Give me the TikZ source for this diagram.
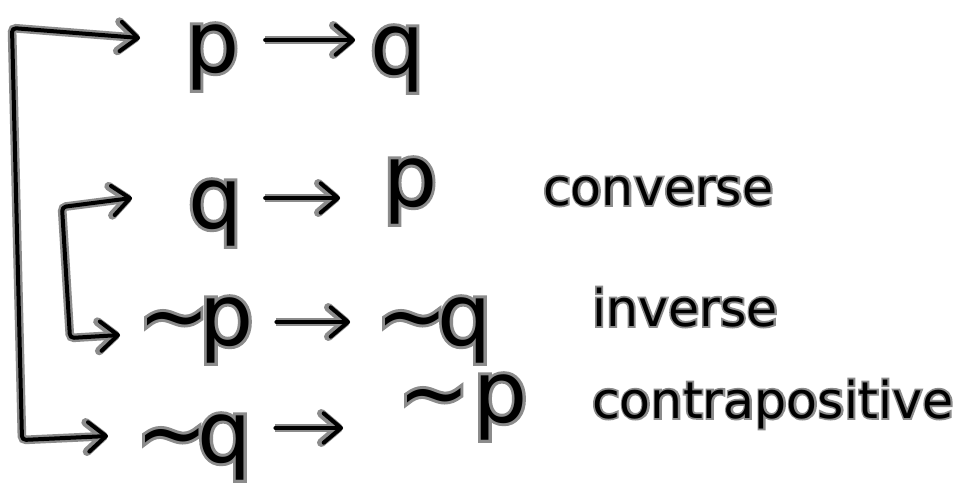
\documentclass[tikz,border=0pt]{standalone}
\usepackage{fontspec}
\usetikzlibrary{arrows.meta,calc}
\newfontfamily\hand{DejaVu Sans}
\newfontfamily\handhalo{DejaVu Sans}[FakeBold=7]
\definecolor{halo}{RGB}{140,140,140}
\newcommand\hw[1]{\rlap{\handhalo\color{halo}#1}#1}
\newcommand\nt{\textasciitilde\kern-0.12em}
\tikzset{
  ink/.style={line width=3pt,line cap=round,line join=round,rounded corners=3pt,
    preaction={draw=halo,line width=6.5pt}},
  oneway/.style={ink,-{Straight Barb[length=13pt,width=22pt,round]}},
  twoway/.style={ink,{Straight Barb[length=13pt,width=22pt,round]}-{Straight Barb[length=13pt,width=22pt,round]}},
  formula/.style={anchor=base west,inner sep=0pt,outer sep=0pt,font=\hand\fontsize{64}{68}\selectfont},
  lab/.style={anchor=base west,inner sep=0pt,outer sep=0pt,font=\hand\fontsize{38}{42}\selectfont}
}
\begin{document}
\begin{tikzpicture}[x=0.75pt,y=-0.75pt]
\fill[white] (0,0) rectangle (970,490);
\useasboundingbox (0,0) rectangle (970,490);
% row 1
\node[formula] (p1) at (185,72) {\hw{p}};
\node[formula] (q1) at (370,74) {\hw{q}};
% row 2
\node[formula] (q2) at (188,228) {\hw{q}};
\node[formula] (p2) at (383,206) {\hw{p}};
\node[lab] (lconv) at (543,205) {\hw{converse}};
% row 3
\node[formula] (np3) at (138,345) {\hw{\nt p}};
\node[formula] (nq3) at (376,345) {\hw{\nt q}};
\node[lab] (linv) at (592,326) {\hw{inverse}};
% row 4
\node[formula] (nq4) at (136,462) {\hw{\nt q}};
\node[formula] (np4) at (398,422) {\hw{\nt\,p}};
\node[lab] (lcon) at (592,418) {\hw{contrapositive}};
% implication arrows
\draw[oneway] ($(p1.base east)+(26,-32)$) -- ($(q1.base west)+(-15,-34)$);
\draw[oneway] ($(q2.base east)+(23,-30)$) -- ($(p2.base west)+(-43,-8)$);
\draw[oneway] ($(np3.base east)+(23,-23)$) -- ($(nq3.base west)+(-26,-23)$);
\draw[oneway] ($(nq4.base east)+(24,-34)$) -- ($(np4.base west)+(-55,6)$);
% brackets
\coordinate (o1) at (12,28);
\coordinate (o2) at (22,440);
\coordinate (i1) at (62,207);
\coordinate (i2) at (70,338);
\draw[twoway] ($(p1.base west)+(-45,-34)$) -- (o1) -- (o2) -- ($(nq4.base west)+(-28,-26)$);
\draw[twoway] ($(q2.base west)+(-56,-30)$) -- (i1) -- (i2) -- ($(np3.base west)+(-18,-10)$);
\end{tikzpicture}
\end{document}
